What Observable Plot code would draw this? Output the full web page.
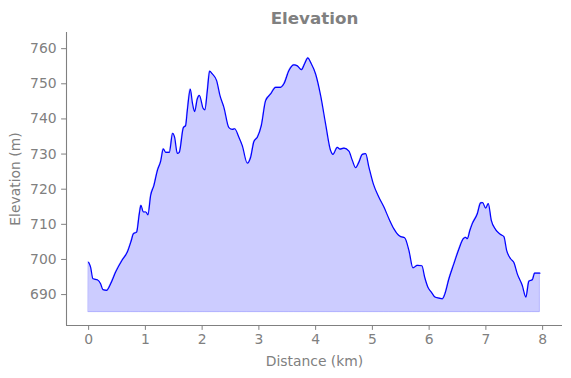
<!DOCTYPE html>
<html>
<head>
<meta charset="utf-8">
<script src="https://cdn.jsdelivr.net/npm/d3@7"></script>
<script src="https://cdn.jsdelivr.net/npm/@observablehq/plot@0.6"></script>
<style>
  html, body { margin: 0; padding: 0; background: #fff; }
  svg { font-family: "DejaVu Sans", sans-serif; }
</style>
</head>
<body>
<div id="chart"></div>
<script>
const title = "Elevation";
const xLabel = "Distance (km)";
const yLabel = "Elevation (m)";
const xTicks = [0, 1, 2, 3, 4, 5, 6, 7, 8];
const yTicks = [690, 700, 710, 720, 730, 740, 750, 760];
const baseElevation = 685;
const xLimits = [-0.39, 8.35];
const yLimits = [681.2, 764.6];

const distanceKm = [0.000, 0.035, 0.076, 0.153, 0.211, 0.252, 0.317, 0.388, 0.476, 0.594,
  0.682, 0.752, 0.788, 0.846, 0.893, 0.922, 0.964, 1.010, 1.045, 1.093,
  1.151, 1.211, 1.269, 1.316, 1.357, 1.422, 1.480, 1.515, 1.563, 1.598,
  1.669, 1.709, 1.739, 1.792, 1.827, 1.868, 1.915, 1.951, 2.021, 2.049,
  2.092, 2.132, 2.180, 2.256, 2.314, 2.384, 2.472, 2.532, 2.573, 2.648,
  2.708, 2.796, 2.855, 2.913, 2.973, 3.043, 3.119, 3.207, 3.295, 3.383,
  3.441, 3.530, 3.618, 3.678, 3.748, 3.806, 3.864, 3.912, 4.000, 4.088,
  4.176, 4.264, 4.305, 4.382, 4.428, 4.499, 4.587, 4.647, 4.705, 4.763,
  4.823, 4.881, 4.939, 5.017, 5.115, 5.204, 5.292, 5.380, 5.468, 5.498,
  5.568, 5.644, 5.715, 5.792, 5.873, 5.921, 5.979, 6.039, 6.102, 6.173,
  6.233, 6.278, 6.349, 6.437, 6.525, 6.603, 6.643, 6.673, 6.719, 6.761,
  6.849, 6.907, 6.943, 6.996, 7.043, 7.096, 7.172, 7.260, 7.318, 7.366,
  7.436, 7.494, 7.554, 7.642, 7.705, 7.758, 7.818, 7.859, 7.952];

const elevationM = [699.2, 697.8, 694.5, 694.2, 693.1, 691.4, 691.2, 693.1, 696.4, 699.9,
  702.1, 705.4, 707.3, 707.8, 713.0, 715.4, 713.5, 713.5, 712.7, 718.2,
  721.1, 725.3, 727.9, 731.5, 730.5, 730.5, 735.9, 734.8, 730.2, 730.5,
  737.5, 738.1, 742.4, 748.5, 744.8, 742.1, 745.7, 746.7, 742.9, 742.6,
  748.1, 753.6, 752.8, 750.9, 746.7, 743.3, 737.5, 737.0, 737.2, 734.8,
  732.4, 727.4, 729.1, 733.6, 734.8, 738.1, 745.2, 747.1, 749.0, 749.0,
  750.0, 753.8, 755.4, 755.1, 754.0, 755.7, 757.4, 756.1, 752.8, 746.7,
  738.6, 731.0, 729.9, 731.9, 731.4, 731.7, 730.8, 728.2, 726.1, 727.7,
  729.9, 730.1, 726.3, 721.5, 717.7, 714.9, 711.6, 708.7, 706.8, 706.5,
  706.2, 702.6, 697.6, 698.3, 698.2, 695.0, 692.1, 690.7, 689.3, 689.0,
  688.8, 690.2, 694.5, 698.8, 703.0, 705.9, 706.3, 705.9, 708.3, 710.2,
  713.0, 716.1, 716.2, 714.6, 715.9, 711.1, 708.5, 707.1, 706.5, 702.6,
  700.2, 699.1, 695.9, 692.6, 689.3, 693.8, 694.2, 696.1, 696.1];

const data = distanceKm.map((d, i) => ({d, e: elevationM[i], base: baseElevation}));

const gray = "#808080";

const chart = Plot.plot({
  width: 571,
  height: 378,
  marginLeft: 66,
  marginRight: 9,
  marginTop: 32,
  marginBottom: 53,
  style: {fontFamily: "DejaVu Sans, sans-serif", fontSize: "13.9px", color: gray, background: "#fff"},
  x: {domain: xLimits},
  y: {domain: yLimits},
  marks: [
    Plot.areaY(data, {x: "d", y1: "base", y2: "e", fill: "blue", fillOpacity: 0.2, stroke: "blue", strokeOpacity: 0.2, strokeWidth: 1, curve: "monotone-x"}),
    Plot.lineY(data, {x: "d", y: "e", stroke: "blue", strokeWidth: 1.2, curve: "monotone-x"}),
    Plot.ruleX([xLimits[0]], {stroke: gray, strokeWidth: 1.1}),
    Plot.ruleY([yLimits[0]], {stroke: gray, strokeWidth: 1.1}),
    Plot.axisX(xTicks, {tickSize: 4.9, tickPadding: 4, stroke: gray, fill: gray, fontSize: 13.9,
      label: xLabel, labelAnchor: "center", labelArrow: "none", labelOffset: 40}),
    Plot.axisY(yTicks, {tickSize: 4.9, tickPadding: 5, stroke: gray, fill: gray, fontSize: 13.9,
      label: yLabel, labelAnchor: "center", labelArrow: "none", labelOffset: 56}),
    Plot.text([title], {frameAnchor: "top", dy: -14, text: d => d, fill: gray, fontWeight: "bold", fontSize: 16.7, lineAnchor: "middle"})
  ]
});
document.getElementById("chart").appendChild(chart);
</script>
</body>
</html>
